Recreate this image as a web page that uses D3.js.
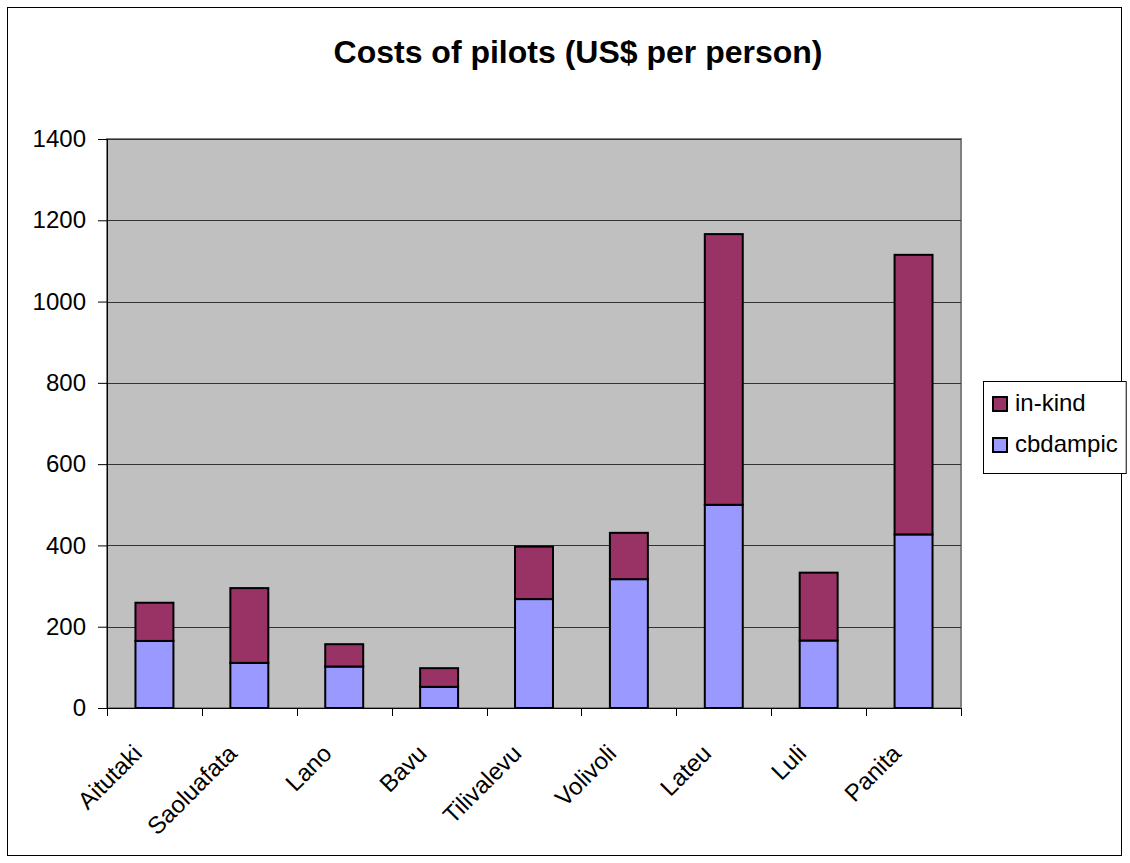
<!DOCTYPE html>
<html>
<head>
<meta charset="utf-8">
<script src="https://cdn.jsdelivr.net/npm/d3@7"></script>
<style>
  body { margin: 0; background: #fff; }
  svg { font-family: "Liberation Sans", Arial, sans-serif; }
</style>
</head>
<body>
<div id="viz"></div>
<script>
const villages = ["Aitutaki", "Saoluafata", "Lano", "Bavu", "Tilivalevu", "Volivoli", "Lateu", "Luli", "Panita"];
const cbdampic = [165, 111, 102, 52, 268, 317, 500, 166, 427];
const inKind = [94, 184, 55, 46, 129, 114, 666, 167, 688];
const yTicks = [0, 200, 400, 600, 800, 1000, 1200, 1400];
const seriesNames = ["cbdampic", "in-kind"];
const seriesColors = ["#9999ff", "#993366"];

const width = 1130;
const height = 863;
const margin = { top: 139, right: 169, bottom: 155, left: 107 };

const svg = d3.select("#viz").append("svg")
    .attr("width", width)
    .attr("height", height);

// outer chart border
svg.append("rect")
    .attr("x", 7.5).attr("y", 7.5)
    .attr("width", 1114).attr("height", 848)
    .attr("fill", "#fff")
    .attr("stroke", "#000")
    .attr("stroke-width", 1);

svg.append("text")
    .attr("x", 578).attr("y", 63)
    .attr("text-anchor", "middle")
    .attr("font-size", 32)
    .attr("font-weight", "bold")
    .text("Costs of pilots (US$ per person)");

const x = d3.scaleBand()
    .domain(villages)
    .range([margin.left, width - margin.right])
    .paddingInner(0.6)
    .paddingOuter(0.3);

const y = d3.scaleLinear()
    .domain([0, 1400])
    .range([height - margin.bottom, margin.top]);

// plot area
svg.append("rect")
    .attr("x", margin.left).attr("y", margin.top)
    .attr("width", width - margin.left - margin.right)
    .attr("height", height - margin.top - margin.bottom)
    .attr("fill", "#c0c0c0")
    .attr("stroke", "#808080")
    .attr("stroke-width", 2);

svg.append("g")
    .selectAll("line")
    .data(yTicks.slice(1))
    .enter()
    .append("line")
    .attr("x1", margin.left).attr("x2", width - margin.right)
    .attr("y1", d => Math.round(y(d)) + 0.5)
    .attr("y2", d => Math.round(y(d)) + 0.5)
    .attr("stroke", "#333")
    .attr("stroke-width", 1);

const table = villages.map((v, i) => ({ village: v, cbdampic: cbdampic[i], "in-kind": inKind[i] }));
const stacked = d3.stack().keys(seriesNames)(table);

svg.append("g")
    .selectAll("g")
    .data(stacked)
    .enter()
    .append("g")
    .attr("fill", (d, i) => seriesColors[i])
    .selectAll("rect")
    .data(d => d)
    .enter()
    .append("rect")
    .attr("x", d => x(d.data.village))
    .attr("width", x.bandwidth())
    .attr("y", d => y(d[1]))
    .attr("height", d => y(d[0]) - y(d[1]))
    .attr("stroke", "#000")
    .attr("stroke-width", 2);

// y axis
const yAxis = svg.append("g")
    .attr("transform", `translate(${margin.left},0)`)
    .call(d3.axisLeft(y).tickValues(yTicks).tickFormat(d3.format("d")).tickSize(9).tickPadding(12));
yAxis.select(".domain").attr("stroke", "#000");
yAxis.selectAll("text")
    .attr("font-size", 24)
    .attr("fill", "#000")
    .attr("font-family", "Liberation Sans, Arial, sans-serif");

// x axis baseline and ticks between categories
const x0 = height - margin.bottom;
svg.append("line")
    .attr("x1", margin.left).attr("x2", width - margin.right)
    .attr("y1", x0 + 0.5).attr("y2", x0 + 0.5)
    .attr("stroke", "#000");

const plotW = width - margin.left - margin.right;
svg.append("g")
    .selectAll("line")
    .data(d3.range(villages.length + 1))
    .enter()
    .append("line")
    .attr("x1", i => Math.round(margin.left + i * plotW / villages.length) + 0.5)
    .attr("x2", i => Math.round(margin.left + i * plotW / villages.length) + 0.5)
    .attr("y1", x0).attr("y2", x0 + 8)
    .attr("stroke", "#000");

svg.append("g")
    .selectAll("text")
    .data(villages)
    .enter()
    .append("text")
    .attr("transform", d => `translate(${x(d) + x.bandwidth() / 2 - 11},${x0 + 47}) rotate(-45)`)
    .attr("text-anchor", "end")
    .attr("font-size", 24)
    .text(d => d);

// legend
const legend = svg.append("g").attr("transform", "translate(983,381)");
const legendBox = legend.append("rect")
    .attr("x", 0.5).attr("y", 0.5)
    .attr("height", 92)
    .attr("fill", "#fff")
    .attr("stroke", "#000");

const legendItems = [1, 0];
let maxW = 0;
legendItems.forEach((si, k) => {
    legend.append("rect")
        .attr("x", 10).attr("y", 16 + k * 41)
        .attr("width", 14).attr("height", 14)
        .attr("fill", seriesColors[si])
        .attr("stroke", "#000")
        .attr("stroke-width", 2);
    const t = legend.append("text")
        .attr("x", 32).attr("y", 30 + k * 41)
        .attr("font-size", 24)
        .text(seriesNames[si]);
    maxW = Math.max(maxW, t.node().getComputedTextLength());
});
legendBox.attr("width", 32 + maxW + 8);
</script>
</body>
</html>
